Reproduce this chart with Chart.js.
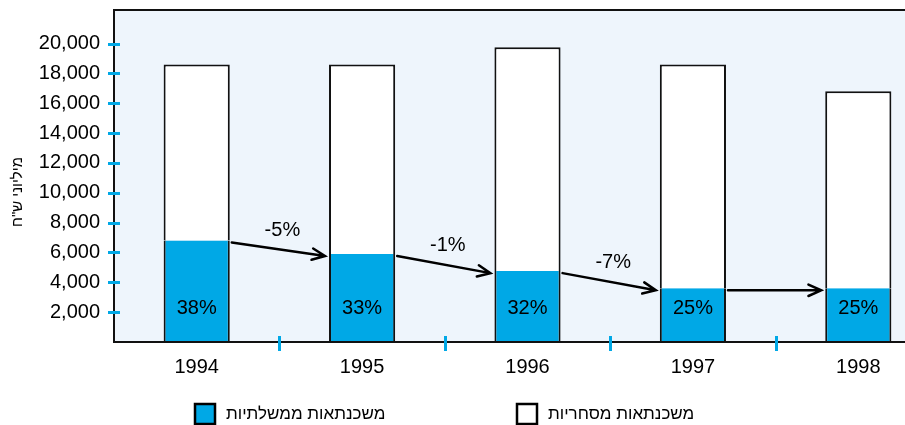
<!DOCTYPE html>
<html lang="he">
<head>
<meta charset="utf-8">
<script src="https://cdn.jsdelivr.net/npm/chart.js@4"></script>
<style>
  html, body { margin: 0; padding: 0; background: #fff; }
  #wrap { width: 905px; height: 425px; overflow: hidden; position: relative; }
  canvas { display: block; }
</style>
</head>
<body>
<div id="wrap"><canvas id="c" width="945" height="425"></canvas></div>
<script>
// ---- data ----
const years = ['1994', '1995', '1996', '1997', '1998'];
const governmentMortgages = [6800, 5900, 4750, 3600, 3600];     // blue (bottom)
const commercialMortgages = [11800, 12700, 15000, 15000, 13200]; // white (top)
const shareLabels = ['38%', '33%', '32%', '25%', '25%'];
const changeLabels = ['-5%', '-1%', '-7%', ''];
const yTickValues = [2000, 4000, 6000, 8000, 10000, 12000, 14000, 16000, 18000, 20000];
const seriesNames = ['משכנתאות ממשלתיות', 'משכנתאות מסחריות'];
const yTitle = 'מיליוני ש"ח';

const BLUE = '#00A8E6';
const PLOT_BG = '#EEF5FC';
const FONT = '"Liberation Sans", Arial, sans-serif';

Chart.defaults.color = '#000';
Chart.defaults.font.family = FONT;

const decor = {
  id: 'decor',
  beforeDraw(chart) {
    const {ctx, chartArea: a} = chart;
    ctx.save();
    ctx.fillStyle = PLOT_BG;
    ctx.fillRect(a.left, a.top, a.right - a.left, a.bottom - a.top);
    ctx.restore();
  },
  afterDatasetsDraw(chart) {
    const {ctx, chartArea: a, scales} = chart;
    const xs = scales.x, ys = scales.y;
    ctx.save();
    // frame (left, top, bottom)
    ctx.strokeStyle = '#111';
    ctx.lineWidth = 2;
    ctx.beginPath();
    ctx.moveTo(a.right + 5, a.top);
    ctx.lineTo(a.left, a.top);
    ctx.lineTo(a.left, a.bottom);
    ctx.lineTo(a.right + 5, a.bottom);
    ctx.stroke();

    // y tick marks (cross the axis)
    ctx.strokeStyle = BLUE;
    ctx.lineWidth = 3;
    ys.ticks.forEach(t => {
      const y = Math.round(ys.getPixelForValue(t.value)) + 0.5;
      ctx.beginPath();
      ctx.moveTo(a.left - 6, y);
      ctx.lineTo(a.left + 6, y);
      ctx.stroke();
    });
    // x tick marks between categories
    for (let i = 0; i < years.length - 1; i++) {
      const x = Math.round((xs.getPixelForValue(i) + xs.getPixelForValue(i + 1)) / 2) + 0.5;
      ctx.beginPath();
      ctx.moveTo(x, a.bottom - 6);
      ctx.lineTo(x, a.bottom + 9);
      ctx.stroke();
    }

    // share labels inside blue bars
    ctx.fillStyle = '#000';
    ctx.font = '20px ' + FONT;
    ctx.textAlign = 'center';
    ctx.textBaseline = 'middle';
    const meta = chart.getDatasetMeta(0);
    meta.data.forEach((el, i) => {
      ctx.fillText(shareLabels[i], el.x, a.bottom - 34);
    });

    // change arrows between blue bar tops
    ctx.strokeStyle = '#000';
    ctx.lineWidth = 2.5;
    ctx.lineCap = 'round';
    for (let i = 0; i < changeLabels.length; i++) {
      const e0 = meta.data[i], e1 = meta.data[i + 1];
      const x0 = e0.x + e0.width / 2 + 2;
      const y0 = ys.getPixelForValue(governmentMortgages[i]) + 2;
      const x1 = e1.x - e1.width / 2 - 4;
      const y1 = ys.getPixelForValue(governmentMortgages[i + 1]) + 2;
      ctx.beginPath();
      ctx.moveTo(x0, y0);
      ctx.lineTo(x1, y1);
      const ang = Math.atan2(y1 - y0, x1 - x0);
      const L = 14, spread = 0.42;
      ctx.moveTo(x1 - L * Math.cos(ang - spread), y1 - L * Math.sin(ang - spread));
      ctx.lineTo(x1, y1);
      ctx.lineTo(x1 - L * Math.cos(ang + spread), y1 - L * Math.sin(ang + spread));
      ctx.stroke();
      if (changeLabels[i]) {
        ctx.fillText(changeLabels[i], (x0 + x1) / 2 + 4, (y0 + y1) / 2 - 19);
      }
    }
    ctx.restore();
  },
  afterDraw(chart) {
    const {ctx} = chart;
    ctx.save();
    // y-axis title, rotated
    ctx.font = '15px ' + FONT;
    ctx.fillStyle = '#000';
    ctx.textAlign = 'center';
    ctx.textBaseline = 'middle';
    ctx.translate(18, 192);
    ctx.rotate(-Math.PI / 2);
    ctx.fillText(yTitle, 0, 0);
    ctx.restore();

    // legend
    ctx.save();
    ctx.font = '17px ' + FONT;
    ctx.textBaseline = 'middle';
    ctx.textAlign = 'left';
    const starts = [195, 517];
    const yMid = 414;
    chart.data.datasets.forEach((ds, i) => {
      const x = starts[i];
      ctx.fillStyle = ds.backgroundColor;
      ctx.fillRect(x, yMid - 10, 20, 20);
      ctx.strokeStyle = '#000';
      ctx.lineWidth = 2.5;
      ctx.strokeRect(x, yMid - 10, 20, 20);
      ctx.fillStyle = '#000';
      ctx.fillText(ds.label, x + 31, yMid);
    });
    ctx.restore();
  }
};

new Chart(document.getElementById('c'), {
  type: 'bar',
  data: {
    labels: years,
    datasets: [
      {
        label: seriesNames[0],
        data: governmentMortgages,
        backgroundColor: BLUE,
        borderColor: '#111',
        borderWidth: {left: 2, right: 2, top: 0, bottom: 0},
        borderSkipped: false,
        barPercentage: 0.4,
        categoryPercentage: 1.0
      },
      {
        label: seriesNames[1],
        data: commercialMortgages,
        backgroundColor: '#FFFFFF',
        borderColor: '#111',
        borderWidth: {left: 2, right: 2, top: 2, bottom: 0},
        borderSkipped: false,
        barPercentage: 0.4,
        categoryPercentage: 1.0
      }
    ]
  },
  options: {
    responsive: false,
    animation: false,
    devicePixelRatio: 1,
    layout: {padding: {left: 0, top: 10, right: 4, bottom: 0}},
    plugins: {legend: {display: false}, tooltip: {enabled: false}},
    scales: {
      x: {
        stacked: true,
        grid: {display: false, drawTicks: false},
        border: {display: false},
        ticks: {font: {size: 20}, padding: 13, color: '#000'},
        afterFit(s) { s.height = 83; s.paddingLeft = 0; s.paddingRight = 0; }
      },
      y: {
        stacked: true,
        min: 0,
        max: 22250,
        grid: {display: false, drawTicks: false},
        border: {display: false},
        ticks: {
          font: {size: 20},
          padding: 14,
          color: '#000',
          callback: v => v.toLocaleString('en-US')
        },
        afterBuildTicks(s) { s.ticks = yTickValues.map(v => ({value: v})); },
        afterFit(s) { s.width = 114; s.paddingTop = 0; s.paddingBottom = 0; }
      }
    }
  },
  plugins: [decor]
});
</script>
</body>
</html>
